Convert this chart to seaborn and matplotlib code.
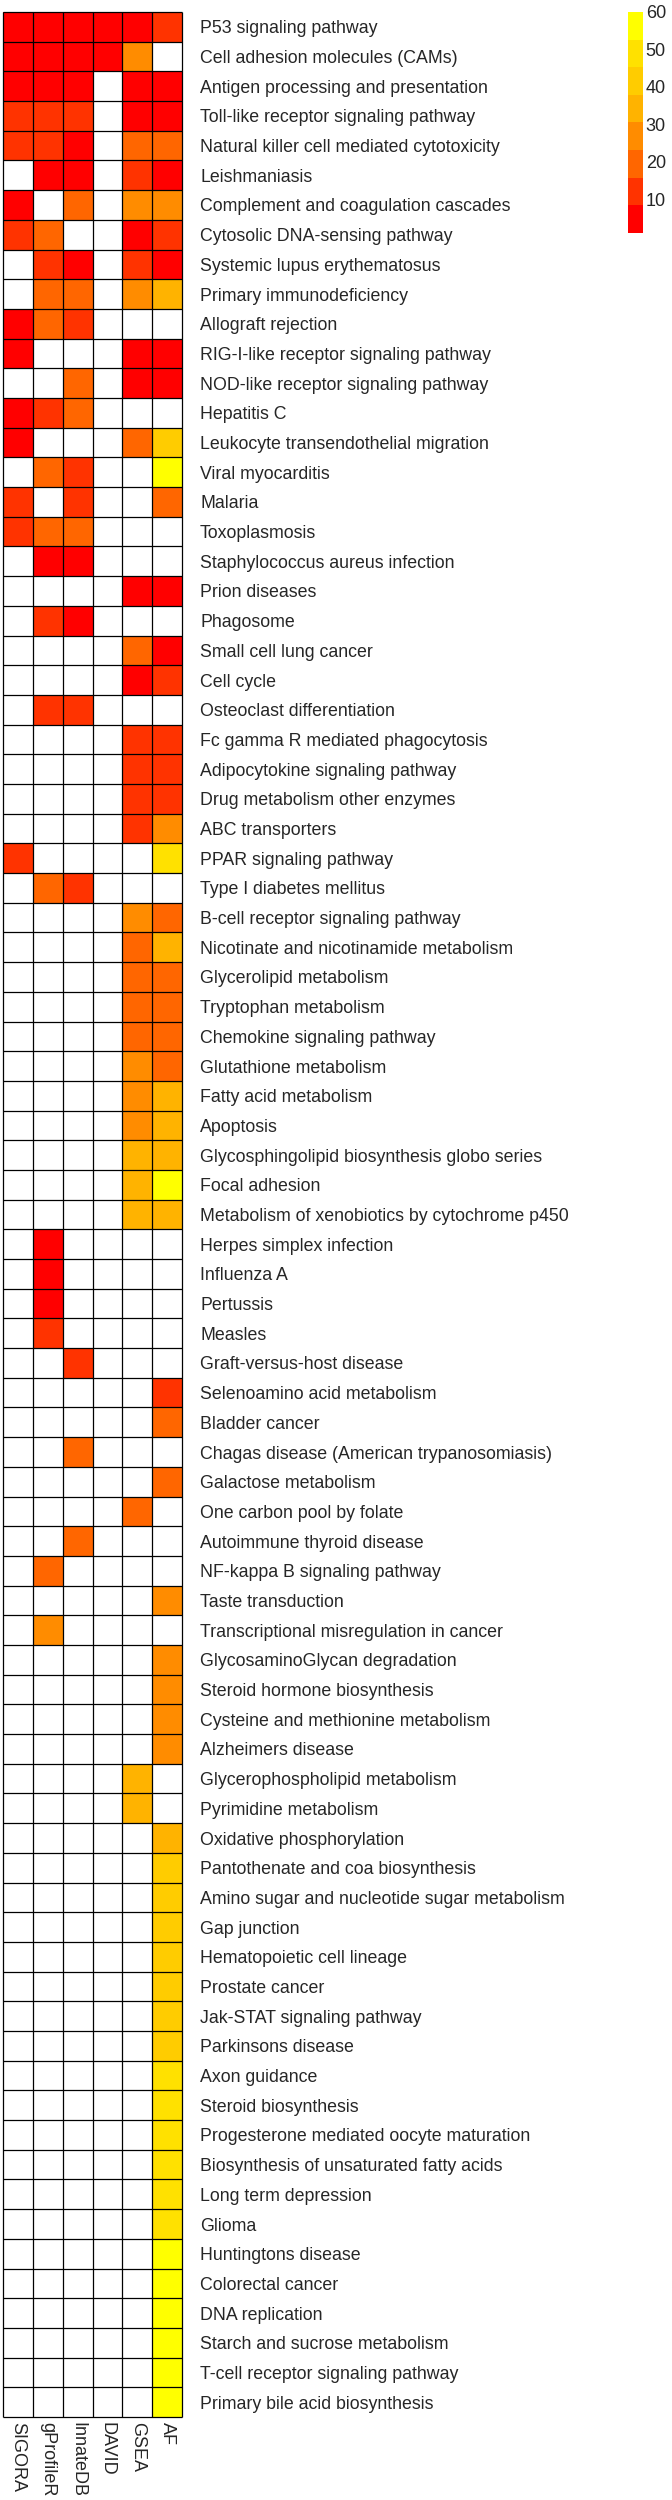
import numpy as np
import pandas as pd
import matplotlib
matplotlib.use('Agg')
import matplotlib.pyplot as plt
import seaborn as sns
from matplotlib.colors import ListedColormap

nan = np.nan

methods = ['SIGORA', 'gProfileR', 'InnateDB', 'DAVID', 'GSEA', 'AF']

pathways = [
    'P53 signaling pathway', 'Cell adhesion molecules (CAMs)',
    'Antigen processing and presentation', 'Toll-like receptor signaling pathway',
    'Natural killer cell mediated cytotoxicity', 'Leishmaniasis',
    'Complement and coagulation cascades', 'Cytosolic DNA-sensing pathway',
    'Systemic lupus erythematosus', 'Primary immunodeficiency',
    'Allograft rejection', 'RIG-I-like receptor signaling pathway',
    'NOD-like receptor signaling pathway', 'Hepatitis C',
    'Leukocyte transendothelial migration', 'Viral myocarditis', 'Malaria',
    'Toxoplasmosis', 'Staphylococcus aureus infection', 'Prion diseases',
    'Phagosome', 'Small cell lung cancer', 'Cell cycle',
    'Osteoclast differentiation', 'Fc gamma R mediated phagocytosis',
    'Adipocytokine signaling pathway', 'Drug metabolism other enzymes',
    'ABC transporters', 'PPAR signaling pathway', 'Type I diabetes mellitus',
    'B-cell receptor signaling pathway', 'Nicotinate and nicotinamide metabolism',
    'Glycerolipid metabolism', 'Tryptophan metabolism',
    'Chemokine signaling pathway', 'Glutathione metabolism',
    'Fatty acid metabolism', 'Apoptosis',
    'Glycosphingolipid biosynthesis globo series', 'Focal adhesion',
    'Metabolism of xenobiotics by cytochrome p450', 'Herpes simplex infection',
    'Influenza A', 'Pertussis', 'Measles', 'Graft-versus-host disease',
    'Selenoamino acid metabolism', 'Bladder cancer',
    'Chagas disease (American trypanosomiasis)', 'Galactose metabolism',
    'One carbon pool by folate', 'Autoimmune thyroid disease',
    'NF-kappa B signaling pathway', 'Taste transduction',
    'Transcriptional misregulation in cancer', 'GlycosaminoGlycan degradation',
    'Steroid hormone biosynthesis', 'Cysteine and methionine metabolism',
    'Alzheimers disease', 'Glycerophospholipid metabolism',
    'Pyrimidine metabolism', 'Oxidative phosphorylation',
    'Pantothenate and coa biosynthesis',
    'Amino sugar and nucleotide sugar metabolism', 'Gap junction',
    'Hematopoietic cell lineage', 'Prostate cancer',
    'Jak-STAT signaling pathway', 'Parkinsons disease', 'Axon guidance',
    'Steroid biosynthesis', 'Progesterone mediated oocyte maturation',
    'Biosynthesis of unsaturated fatty acids', 'Long term depression',
    'Glioma', 'Huntingtons disease', 'Colorectal cancer', 'DNA replication',
    'Starch and sucrose metabolism', 'T-cell receptor signaling pathway',
    'Primary bile acid biosynthesis',
]

# rank of each pathway per method (nan = not reported)
sigora = [3, 2, 4, 10, 12, nan, 5, 11, nan, nan,
          1, 6, nan, 7, 8, nan, 13, 14, nan, nan,
          nan, nan, nan, nan, nan, nan, nan, nan, 15, nan] + [nan] * 51

gprofiler = [1, 3, 2, 10, 11, 4, nan, 18, 12, 19,
             17, nan, nan, 13, nan, 20, nan, 21, 5, nan,
             14, nan, nan, 15, nan, nan, nan, nan, nan, 22,
             nan, nan, nan, nan, nan, nan, nan, nan, nan, nan,
             nan, 6, 7, 8, 9, nan, nan, nan, nan, nan,
             nan, nan, 23, nan, 26, nan, nan, nan, nan, nan] + [nan] * 21

innatedb = [2, 1, 3, 11, 4, 5, 18, nan, 6, 19,
            12, nan, 20, 21, nan, 13, 14, 17, 7, nan,
            8, nan, nan, 10, nan, nan, nan, nan, nan, 15,
            nan, nan, nan, nan, nan, nan, nan, nan, nan, nan,
            nan, nan, nan, nan, nan, 9, nan, nan, 22, nan,
            nan, 23, nan, nan, nan, nan, nan, nan, nan, nan] + [nan] * 21

david = [1, 2] + [nan] * 79

gsea = [1, 27, 2, 3, 18, 10, 28, 4, 11, 29,
        nan, 5, 6, nan, 19, nan, nan, nan, nan, 7,
        nan, 20, 8, nan, 12, 13, 14, 15, nan, nan,
        25, 21, 22, 23, 17, 26, 24, 30, 31, 33,
        35, nan, nan, nan, nan, nan, nan, nan, nan, nan,
        16, nan, nan, nan, nan, nan, nan, nan, nan, 36,
        37] + [nan] * 20

af = [10, nan, 1, 2, 18, 3, 27, 11, 4, 33,
      nan, 5, 6, nan, 40, 58, 19, nan, nan, 7,
      nan, 8, 12, nan, 13, 14, 15, 28, 50, nan,
      20, 34, 21, 22, 23, 17, 35, 36, 37, 59,
      31, nan, nan, nan, nan, nan, 9, 16, nan, 18,
      nan, nan, nan, 24, nan, 25, 26, 29, 30, nan,
      nan, 32, 38, 39, 41, 42, 43, 44, 45, 46,
      47, 48, 49, 51, 52, 53, 54, 55, 56, 57,
      60]

palette = ['#FF0000', '#FF3300', '#FF6600', '#FF8C00',
           '#FFB300', '#FFCC00', '#FFE100', '#FFFF00']
cbar_ticks = [10, 20, 30, 40, 50, 60]

df = pd.DataFrame({'SIGORA': sigora, 'gProfileR': gprofiler,
                   'InnateDB': innatedb, 'DAVID': david,
                   'GSEA': gsea, 'AF': af}, index=pathways)[methods]

sns.set_style('white')
plt.rcParams['font.family'] = ['Liberation Sans', 'DejaVu Sans']

W, H = 672, 2500
fig = plt.figure(figsize=(W / 100, H / 100), dpi=100)
ax = fig.add_axes([3 / W, 1 - 2417 / H, 179 / W, 2405 / H])
cax = fig.add_axes([628 / W, 1 - 233 / H, 15 / W, 221 / H])

sns.heatmap(df, ax=ax, cmap=ListedColormap(palette), vmin=1, vmax=60,
            cbar_ax=cax, cbar_kws={'ticks': cbar_ticks},
            xticklabels=True, yticklabels=True)

# full grid, including empty cells
n = len(pathways)
ax.hlines(np.arange(n + 1), 0, len(methods), colors='black', lw=0.9, clip_on=False)
ax.vlines(np.arange(len(methods) + 1), 0, n, colors='black', lw=0.9, clip_on=False)

ax.yaxis.tick_right()
ax.tick_params(axis='y', length=0, pad=13, labelsize=12.8, labelrotation=0)
ax.tick_params(axis='x', length=0, pad=3.5, labelsize=13, labelrotation=270)

cbar = ax.collections[0].colorbar
cbar.outline.set_visible(False)
cbar.ax.tick_params(length=0, pad=2, labelsize=13)

fig.savefig('out.png', dpi=100)
